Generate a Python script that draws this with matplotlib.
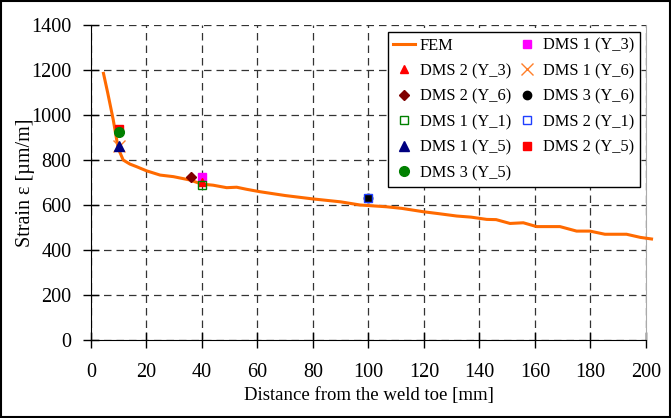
import matplotlib.pyplot as plt
from matplotlib.patches import Rectangle

plt.rcParams['font.family'] = ['Liberation Serif', 'DejaVu Serif']

# FEM curve
fem_x = [4.5, 6, 8, 9.8, 11.6, 14, 16.5, 20, 24.9, 29.7, 35.7, 39.9, 44, 48.9, 52.5, 56,
         60.9, 70, 80, 90, 97, 106.6, 112, 119.8, 125, 131.8, 137, 142.6, 146, 151, 155.8,
         160.6, 169, 175, 179.8, 185.2, 193, 198, 202]
fem_y = [1185, 1100, 980, 852, 800, 782, 770, 752, 733, 726, 711, 693, 688, 677, 679, 670,
         659, 642, 627, 614, 600, 592, 585, 570, 562, 551, 546, 536, 535, 518, 521,
         504, 504, 484, 484, 470, 470, 456, 449]

# measured points (DMS gauges)
dms1_y3 = (40, 723)
dms2_y3 = (40, 700)
dms1_y6 = (10, 862)
dms2_y6 = (36, 723)
dms3_y6 = (100, 630)
dms1_y1 = (40, 688)
dms2_y1 = (100, 630)
dms1_y5 = (10, 860)
dms2_y5 = (10, 938)
dms3_y5 = (10, 923)

fig = plt.figure(figsize=(6.71, 4.18), dpi=100)
ax = fig.add_axes([0.1356, 0.1866, 0.8271, 0.7536])

# frame round the whole figure
fig.patches.append(Rectangle((0.002, 0.002), 0.996, 0.996, transform=fig.transFigure,
                             fill=False, edgecolor='black', linewidth=1.5))

h = {}
h['fem'], = ax.plot(fem_x, fem_y, color='#ff6a00', linewidth=2.2, label='FEM',
                    clip_on=False, zorder=3)
ms = 6
h['d1y3'], = ax.plot(*dms1_y3, 's', color='magenta', ms=ms, label='DMS 1 (Y_3)', zorder=4)
h['d2y3'], = ax.plot(*dms2_y3, '^', color='red', ms=ms, label='DMS 2 (Y_3)', zorder=5)
h['d1y6'], = ax.plot(*dms1_y6, 'x', color='#ff7f2a', ms=ms + 2, mew=1, label='DMS 1 (Y_6)', zorder=4)
h['d2y6'], = ax.plot(*dms2_y6, 'D', color='#7f0000', ms=ms - 1, label='DMS 2 (Y_6)', zorder=4)
h['d3y6'], = ax.plot(*dms3_y6, 'o', color='black', ms=ms, label='DMS 3 (Y_6)', zorder=4)
h['d1y1'], = ax.plot(*dms1_y1, 's', mfc='none', mec='green', ms=ms, label='DMS 1 (Y_1)', zorder=5)
h['d2y1'], = ax.plot(*dms2_y1, 's', mfc='none', mec='#1f3fff', ms=ms, label='DMS 2 (Y_1)', zorder=5)
h['d1y5'], = ax.plot(*dms1_y5, '^', color='#000080', ms=ms + 1, label='DMS 1 (Y_5)', zorder=5)
h['d2y5'], = ax.plot(*dms2_y5, 's', color='red', ms=ms, label='DMS 2 (Y_5)', zorder=4)
h['d3y5'], = ax.plot(*dms3_y5, 'o', color='green', ms=ms + 1, label='DMS 3 (Y_5)', zorder=5)

order = ['fem', 'd2y3', 'd2y6', 'd1y1', 'd1y5', 'd3y5', 'd1y3', 'd1y6', 'd3y6', 'd2y1', 'd2y5']
leg = ax.legend([h[k] for k in order], [h[k].get_label() for k in order], ncol=2,
                loc='upper right', bbox_to_anchor=(0.989, 0.978), borderaxespad=0,
                fontsize=11.8, fancybox=False, framealpha=1, edgecolor='black',
                handlelength=1.3, handletextpad=0.3, columnspacing=0.35,
                labelspacing=0.58, borderpad=0.35, numpoints=1)
leg.get_frame().set_linewidth(1.0)
leg.set_zorder(10)

ax.set_xlim(0, 200)
ax.set_ylim(0, 1400)
ax.set_xticks(range(0, 201, 20))
ax.set_yticks(range(0, 1401, 200))
ax.grid(True, color='#333333', linestyle=(0, (6, 4)), linewidth=0.9)
ax.set_axisbelow(True)
ax.spines['top'].set_visible(False)
ax.spines['right'].set_color('#aaaaaa')
ax.tick_params(direction='inout', length=11, width=1, labelsize=14.5)
ax.tick_params(axis='y', pad=8.5)
ax.tick_params(axis='x', pad=11)
ax.set_xlabel('Distance from the weld toe [mm]', fontsize=13.5, labelpad=4)
ax.set_ylabel('Strain ε [µm/m]', fontsize=14.5, labelpad=-3)

plt.savefig('out.png', dpi=100)
